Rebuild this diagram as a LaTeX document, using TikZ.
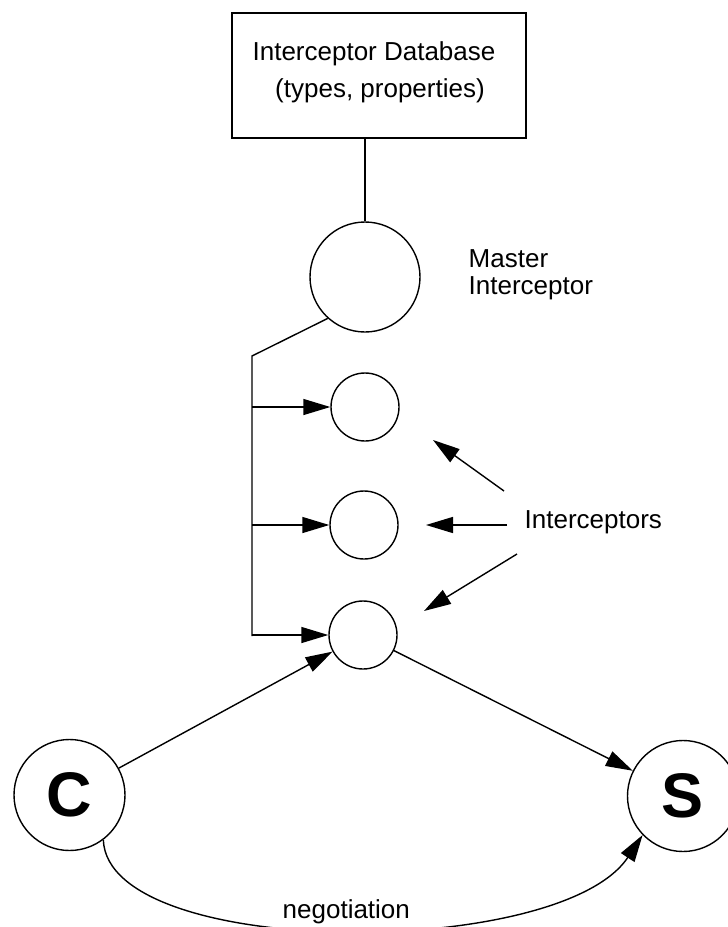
\documentclass[tikz,border=0pt]{standalone}
\usepackage{fontspec}
\setmainfont{Liberation Sans}
\usetikzlibrary{arrows.meta}
\begin{document}
\begin{tikzpicture}[x=1pt,y=-1pt,
  line width=1.4pt,
  arr/.style={-{Triangle[length=27pt,width=16pt]}},
  lbl/.style={font=\fontsize{26}{28}\selectfont, inner sep=0pt},
  proc/.style={circle, draw, inner sep=0pt},
  endpoint/.style={proc, minimum size=111pt, font=\fontsize{63}{63}\selectfont\bfseries}]
\useasboundingbox (0,0) rectangle (728,927);

% database box and its caption
\node[draw, minimum width=294pt, minimum height=125pt, inner sep=0pt] (db) at (379,75.5) {};
\node[lbl, anchor=base] (dbt1) at (374,60) {Interceptor Database};
\node[lbl, anchor=base] (dbt2) at (380,97) {(types, properties)};

% master interceptor
\node[proc, minimum size=110pt] (master) at (365,277) {};
\node[lbl, anchor=base west] (mlbl1) at (468,267) {Master};
\node[lbl, anchor=base west] (mlbl2) at (468,294) {Interceptor};

% interceptor chain
\node[proc, minimum size=68pt] (i1) at (365,407) {};
\node[proc, minimum size=68pt] (i2) at (364,525) {};
\node[proc, minimum size=68pt] (i3) at (363,635) {};

% client and server
\node[endpoint] (C) at (69.5,795) {C};
\node[endpoint] (S) at (683,796) {S};

% labels
\node[lbl, anchor=base west] (ilbl) at (524,528) {Interceptors};
\node[lbl, anchor=base west] (neg) at (282,918) {negotiation};

% database link and distribution bus
\coordinate (busTop) at (252,356);
\coordinate (busBot) at (252,636);
\draw (db.south -| master.north) -- (master.north);
\draw (master.228) -- (busTop) -- (busBot);
\draw[arr] (busTop |- i1) -- (i1.west);
\draw[arr] (busTop |- i2) -- (i2.west);
\draw[arr] (busTop |- i3) -- (i3.west);

% pointers from the "Interceptors" label
\coordinate (a1s) at (504,491); \coordinate (a1e) at (433,440);
\coordinate (a2s) at (507,525); \coordinate (a2e) at (426,525);
\coordinate (a3s) at (517,554); \coordinate (a3e) at (424,611);
\draw[arr] (a1s) -- (a1e);
\draw[arr] (a2s) -- (a2e);
\draw[arr] (a3s) -- (a3e);

% request path through the chain
\draw[arr] (C) -- (i3);
\draw[arr] (i3) -- (S);

% negotiation curve
\draw[arr] (C.-53) .. controls (108,960) and (560,960) .. (S.224);
\end{tikzpicture}
\end{document}
